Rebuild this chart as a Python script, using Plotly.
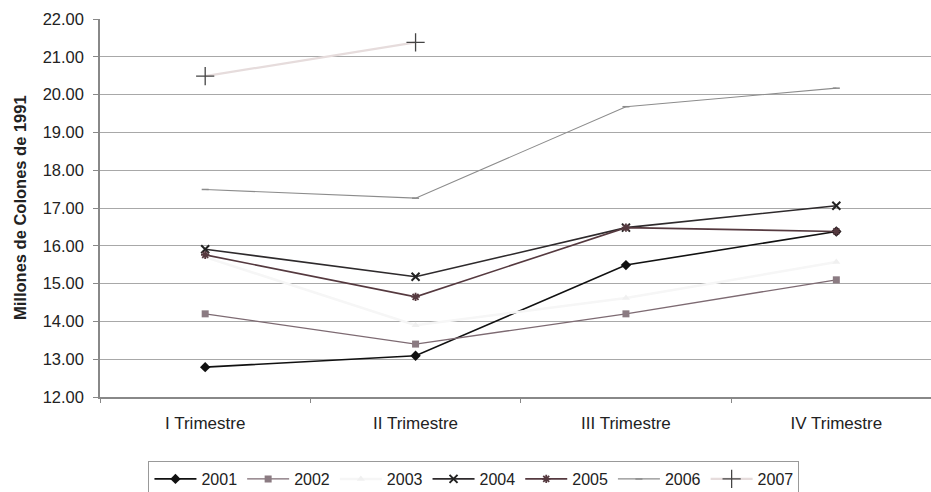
import plotly.graph_objects as go

categories = ["I Trimestre", "II Trimestre", "III Trimestre", "IV Trimestre"]
years = ["2001", "2002", "2003", "2004", "2005", "2006", "2007"]
v2001 = [12.79, 13.09, 15.49, 16.38]
v2002 = [14.20, 13.40, 14.20, 15.10]
v2003 = [15.70, 13.90, 14.62, 15.57]
v2004 = [15.91, 15.18, 16.48, 17.06]
v2005 = [15.76, 14.65, 16.48, 16.38]
v2006 = [17.49, 17.26, 19.68, 20.17]
v2007 = [20.49, 21.38]
yticks = [12, 13, 14, 15, 16, 17, 18, 19, 20, 21, 22]

series = [v2001, v2002, v2003, v2004, v2005, v2006, v2007]
styles = [
    dict(line=dict(color="#111111", width=1.6), marker=dict(symbol="diamond", size=8, color="#111111")),
    dict(line=dict(color="#7d6a72", width=1.3), marker=dict(symbol="square", size=7, color="#8b7b82")),
    dict(line=dict(color="#f6f6f6", width=2.5), marker=dict(symbol="triangle-up", size=7, color="#f0f0f0")),
    dict(line=dict(color="#2e2a2c", width=1.6), marker=dict(symbol="x-thin-open", size=8, color="#222222", line=dict(width=2, color="#222222"))),
    dict(line=dict(color="#55393f", width=1.6), marker=dict(symbol="asterisk-open", size=7, color="#55393f", line=dict(width=1.8, color="#55393f"))),
    dict(line=dict(color="#8c8c8c", width=1.1), marker=dict(symbol="line-ew-open", size=5, color="#8c8c8c", line=dict(width=1.5, color="#8c8c8c"))),
    dict(line=dict(color="#e6dcdc", width=2.2), marker=dict(symbol="cross-thin-open", size=13, color="#444444", line=dict(width=1.3, color="#444444"))),
]

fig = go.Figure()
for name, vals, st in zip(years, series, styles):
    fig.add_trace(go.Scatter(
        x=categories[:len(vals)], y=vals, name=name, mode="lines+markers",
        line=st["line"], marker=st["marker"],
    ))

fig.update_layout(
    width=931, height=492,
    margin=dict(l=100, r=0, t=19, b=95),
    paper_bgcolor="white", plot_bgcolor="white",
    font=dict(family="Liberation Sans, Arial, sans-serif", size=16, color="#222222"),
    showlegend=True,
    legend=dict(
        orientation="h", x=0.45, xanchor="center",
        yref="container", y=1 - 461 / 492, yanchor="top",
        bordercolor="#999999", borderwidth=1, font=dict(size=16, color="#222222"),
        itemwidth=42, tracegroupgap=0,
    ),
    annotations=[dict(
        text="<b>Millones de Colones de 1991</b>", textangle=-90,
        xref="paper", yref="paper", x=(20 - 100) / 831, y=0.5,
        xanchor="center", yanchor="middle", showarrow=False,
        font=dict(size=16.5, color="#222222"),
    )],
)
fig.update_xaxes(
    type="category", categoryorder="array", categoryarray=categories,
    range=[-0.5, 3.45], showgrid=False, automargin=False,
    showline=True, linecolor="#888888", linewidth=1.5,
    ticks="outside", tickson="boundaries", ticklen=4, tickcolor="#888888",
    tickfont=dict(size=17, color="#222222"), ticklabelstandoff=10,
)
fig.update_yaxes(
    range=[12, 22], tickvals=yticks, ticktext=[f"{v:.2f}" for v in yticks],
    showgrid=True, gridcolor="#a8a8a8", gridwidth=1.3, automargin=False,
    showline=True, linecolor="#888888", linewidth=1.5,
    ticks="outside", ticklen=5, tickcolor="#888888",
    tickfont=dict(size=16.5, color="#222222"), ticklabelstandoff=6,
    zeroline=False,
)

fig.write_html("out.html", config={"displayModeBar": False},
               post_script="document.body.style.margin='0px';")
